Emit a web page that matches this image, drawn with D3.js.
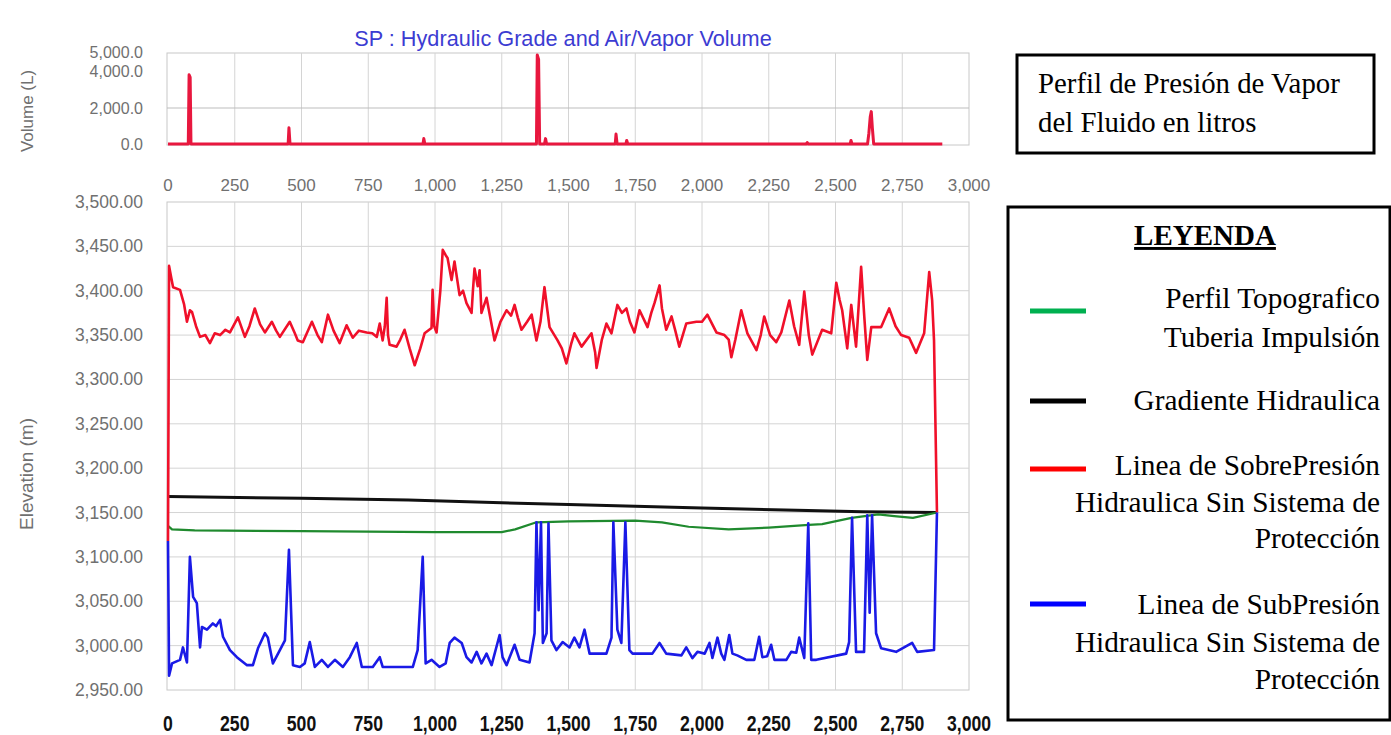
<!DOCTYPE html>
<html>
<head>
<meta charset="utf-8">
<script src="https://cdn.jsdelivr.net/npm/d3@7/dist/d3.min.js"></script>
<style>
  html, body { margin: 0; padding: 0; background: #fff; }
  svg { display: block; }
</style>
</head>
<body>
<svg id="chart" width="1391" height="735"></svg>
<script>
// ---- data: distance along the pipe (m) and value ----
const distanceTicks = [0, 250, 500, 750, 1000, 1250, 1500, 1750, 2000, 2250, 2500, 2750, 3000];
const volumeTicks = [0, 2000, 4000, 5000];
const elevationTicks = [2950, 3000, 3050, 3100, 3150, 3200, 3250, 3300, 3350, 3400, 3450, 3500];

// air/vapor volume (L)
const vaporVolume = [
  [0,0],[76,0],[79,3850],[83,3700],[86,0],[450,0],[453,900],[457,0],[955,0],[958,300],[962,0],
  [1380,0],[1383,4950],[1388,4700],[1392,0],[1410,0],[1414,300],[1418,0],[1675,0],[1678,550],[1682,0],
  [1715,0],[1718,200],[1722,0],[2390,0],[2394,80],[2398,0],[2555,0],[2558,200],[2562,0],
  [2620,0],[2625,600],[2630,1500],[2634,1800],[2638,900],[2643,0],[2900,0]
];

// maximum transient head (m)
const overPressure = [
  [0,3118],[4,3428],[12,3415],[19,3404],[45,3401],[60,3385],[71,3365],[82,3378],[90,3376],[105,3360],
  [120,3348],[140,3350],[157,3341],[175,3352],[195,3350],[215,3356],[232,3353],[262,3370],[288,3348],
  [305,3360],[325,3380],[345,3362],[363,3353],[389,3365],[405,3355],[419,3348],[456,3365],[475,3352],
  [486,3344],[505,3342],[539,3365],[560,3350],[576,3342],[599,3373],[620,3355],[643,3341],[669,3361],
  [692,3347],[715,3355],[744,3353],[765,3352],[782,3348],[793,3363],[804,3344],[812,3360],[819,3392],
  [824,3350],[830,3339],[856,3337],[870,3345],[886,3356],[905,3335],[924,3316],[945,3335],[961,3352],
  [987,3358],[991,3401],[997,3360],[1006,3353],[1020,3400],[1029,3446],[1040,3440],[1047,3437],
  [1062,3412],[1073,3433],[1092,3395],[1105,3400],[1118,3386],[1137,3375],[1142,3400],[1148,3425],
  [1160,3405],[1167,3423],[1174,3375],[1193,3392],[1210,3365],[1223,3344],[1245,3365],[1268,3378],
  [1285,3372],[1298,3384],[1310,3370],[1324,3356],[1345,3365],[1362,3373],[1380,3344],[1395,3365],
  [1410,3404],[1420,3380],[1429,3359],[1459,3344],[1475,3335],[1492,3318],[1510,3340],[1522,3352],
  [1549,3337],[1586,3352],[1600,3330],[1605,3313],[1625,3345],[1642,3363],[1661,3352],[1683,3384],
  [1700,3375],[1717,3380],[1730,3365],[1747,3353],[1766,3378],[1796,3359],[1810,3375],[1822,3386],
  [1841,3406],[1850,3380],[1866,3356],[1886,3371],[1900,3355],[1915,3337],[1941,3363],[1979,3365],
  [2000,3365],[2020,3373],[2054,3353],[2084,3350],[2100,3345],[2110,3325],[2125,3345],[2147,3378],
  [2170,3352],[2204,3333],[2220,3350],[2233,3371],[2255,3350],[2278,3342],[2297,3353],[2327,3389],
  [2345,3360],[2364,3339],[2383,3399],[2400,3350],[2413,3328],[2450,3356],[2484,3352],[2503,3409],
  [2515,3390],[2525,3378],[2544,3335],[2559,3384],[2577,3337],[2596,3427],[2608,3370],[2619,3322],
  [2634,3359],[2671,3359],[2701,3380],[2725,3360],[2746,3350],[2776,3347],[2802,3330],[2832,3352],
  [2851,3421],[2862,3389],[2869,3344],[2880,3150]
];

// minimum transient head (m)
const underPressure = [
  [0,3118],[4,2966],[15,2980],[45,2984],[56,2998],[71,2981],[82,3100],[94,3055],[108,3048],[120,2998],
  [127,3021],[146,3018],[168,3025],[180,3022],[195,3029],[206,3010],[232,2995],[258,2987],[296,2978],
  [318,2978],[337,2997],[363,3014],[374,3009],[393,2980],[419,2995],[438,3006],[453,3108],[468,2978],
  [494,2976],[512,2980],[531,3004],[550,2976],[576,2984],[599,2976],[625,2984],[655,2976],[681,2987],
  [707,3003],[726,2976],[767,2976],[793,2987],[804,2976],[917,2976],[935,2995],[954,3100],[965,2980],
  [987,2984],[1017,2976],[1040,2980],[1055,3003],[1073,3009],[1100,3003],[1118,2987],[1137,2981],
  [1156,2993],[1174,2980],[1193,2991],[1212,2978],[1242,3012],[1253,2987],[1268,2978],[1298,3001],
  [1317,2984],[1354,2981],[1373,3014],[1380,3139],[1388,3040],[1397,3139],[1404,3003],[1418,3014],
  [1425,3138],[1436,3006],[1455,2995],[1478,3004],[1504,2998],[1522,3009],[1541,2998],[1560,3018],
  [1579,2991],[1642,2991],[1661,3009],[1668,3139],[1683,3018],[1698,3003],[1713,3139],[1728,2995],
  [1740,2991],[1814,2991],[1841,3003],[1866,2991],[1923,2989],[1941,2998],[1964,2986],[1983,2993],
  [2010,2991],[2028,3003],[2039,2986],[2058,3009],[2072,2991],[2084,2984],[2102,3012],[2114,2991],
  [2132,2989],[2166,2984],[2196,2984],[2214,3010],[2226,2987],[2244,2988],[2259,3001],[2271,2984],
  [2316,2984],[2334,2993],[2353,2992],[2364,3009],[2383,2986],[2398,3138],[2409,2984],[2428,2984],
  [2540,2991],[2551,3004],[2562,3144],[2577,2993],[2607,2993],[2619,3147],[2628,3037],[2637,3147],
  [2652,3014],[2671,2997],[2727,2993],[2787,3003],[2806,2993],[2869,2995],[2880,3150]
];

// steady-state hydraulic grade (m)
const hydraulicGrade = [
  [0,3168],[500,3166],[900,3164],[1500,3159],[2000,3155],[2600,3151],[2880,3150]
];

// pipe profile (m)
const terrainProfile = [
  [0,3135],[15,3131],[100,3130],[500,3129],[1000,3128],[1250,3128],[1300,3131],[1380,3139],
  [1500,3140],[1750,3141],[1850,3139],[1950,3134],[2100,3131],[2250,3133],[2400,3136],[2450,3137],
  [2560,3144],[2660,3148],[2720,3146],[2790,3144],[2880,3150]
];

const legendItems = [
  { color: "#00b050", lines: ["Perfil Topografico", "Tuberia Impulsión"] },
  { color: "#000000", lines: ["Gradiente Hidraulica"] },
  { color: "#ff0000", lines: ["Linea de SobrePresión", "Hidraulica Sin Sistema de", "Protección"] },
  { color: "#0000ff", lines: ["Linea de SubPresión", "Hidraulica Sin Sistema de", "Protección"] }
];

// ---- drawing ----
const svg = d3.select("#chart");
const axisFont = "'Liberation Sans', Arial, sans-serif";
const serif = "'Liberation Serif', 'Times New Roman', serif";
const gridColor = "#d4d4d4";
const labelGray = "#707070";

const x = d3.scaleLinear().domain([0, 3000]).range([168, 969]);
const yVol = d3.scaleLinear().domain([0, 5000]).range([144, 54]);
const yElev = d3.scaleLinear().domain([2950, 3500]).range([690, 202]);

// title
svg.append("text")
  .attr("x", 563).attr("y", 46)
  .attr("text-anchor", "middle")
  .attr("font-family", axisFont).attr("font-size", 21.7)
  .attr("fill", "#3c3cd2")
  .text("SP : Hydraulic Grade and Air/Vapor Volume");

// ---------- volume panel ----------
const volPanel = svg.append("g");
volPanel.append("rect").attr("x", 167).attr("y", 53).attr("width", 802).attr("height", 92)
  .attr("fill", "#fff").attr("stroke", "#c8c8c8");
volPanel.selectAll("line.vg").data(distanceTicks.slice(1, -1)).join("line")
  .attr("x1", d => x(d)).attr("x2", d => x(d)).attr("y1", 53).attr("y2", 145)
  .attr("stroke", gridColor);
volPanel.append("line").attr("x1", 167).attr("x2", 969).attr("y1", yVol(2000)).attr("y2", yVol(2000))
  .attr("stroke", "#bdbdbd");

// the 4,000 and 5,000 labels sit close together; nudge them apart
const volLabelShift = { 0: 6, 2000: 6, 4000: 5, 5000: 4 };
volPanel.selectAll("text.yt").data(volumeTicks).join("text")
  .attr("x", 143).attr("y", d => yVol(d) + volLabelShift[d])
  .attr("text-anchor", "end").attr("font-family", axisFont).attr("font-size", 16)
  .attr("fill", labelGray).text(d => d3.format(",.1f")(d));

volPanel.selectAll("text.xt").data(distanceTicks).join("text")
  .attr("x", d => x(d)).attr("y", 191)
  .attr("text-anchor", "middle").attr("font-family", axisFont).attr("font-size", 17)
  .attr("fill", labelGray).text(d => d3.format(",")(d));

volPanel.append("text")
  .attr("transform", "translate(33,111) rotate(-90)")
  .attr("text-anchor", "middle").attr("font-family", axisFont).attr("font-size", 17)
  .attr("fill", labelGray).text("Volume (L)");

const volLine = d3.line().x(d => x(d[0])).y(d => yVol(d[1]));
volPanel.append("path").datum(vaporVolume).attr("d", volLine)
  .attr("fill", "none").attr("stroke", "#e8173e").attr("stroke-width", 3)
  .attr("stroke-linejoin", "round");

// ---------- elevation panel ----------
const elevPanel = svg.append("g");
elevPanel.append("rect").attr("x", 167).attr("y", 202).attr("width", 802).attr("height", 488)
  .attr("fill", "#fff").attr("stroke", "#c8c8c8");
elevPanel.selectAll("line.vg").data(distanceTicks.slice(1, -1)).join("line")
  .attr("x1", d => x(d)).attr("x2", d => x(d)).attr("y1", 202).attr("y2", 690)
  .attr("stroke", gridColor);
elevPanel.selectAll("line.hg").data(elevationTicks.slice(1, -1)).join("line")
  .attr("x1", 167).attr("x2", 969).attr("y1", d => yElev(d)).attr("y2", d => yElev(d))
  .attr("stroke", gridColor);

elevPanel.selectAll("text.yt").data(elevationTicks).join("text")
  .attr("x", 143).attr("y", d => yElev(d) + 6)
  .attr("text-anchor", "end").attr("font-family", axisFont).attr("font-size", 17.5)
  .attr("fill", labelGray).text(d => d3.format(",.2f")(d));

elevPanel.selectAll("text.xt").data(distanceTicks).join("text")
  .attr("transform", d => `translate(${x(d)},731) scale(0.8,1)`)
  .attr("text-anchor", "middle").attr("font-family", axisFont).attr("font-size", 22)
  .attr("font-weight", "bold").attr("fill", "#111").text(d => d3.format(",")(d));

elevPanel.append("text")
  .attr("transform", "translate(33,474) rotate(-90)")
  .attr("text-anchor", "middle").attr("font-family", axisFont).attr("font-size", 19)
  .attr("fill", labelGray).text("Elevation (m)");

const elevLine = d3.line().x(d => x(d[0])).y(d => yElev(d[1]));
const series = [
  { data: hydraulicGrade, color: "#111111", width: 3 },
  { data: terrainProfile, color: "#1f8a2e", width: 2.2 },
  { data: overPressure, color: "#f0102a", width: 2.6 },
  { data: underPressure, color: "#1a1ae6", width: 2.6 }
];
elevPanel.selectAll("path.series").data(series).join("path")
  .attr("d", d => elevLine(d.data))
  .attr("fill", "none").attr("stroke", d => d.color).attr("stroke-width", d => d.width)
  .attr("stroke-linejoin", "round");

// ---------- annotation box ----------
const note = svg.append("g");
note.append("rect").attr("x", 1017).attr("y", 55).attr("width", 357).attr("height", 98)
  .attr("fill", "#fff").attr("stroke", "#000").attr("stroke-width", 3);
note.selectAll("text").data(["Perfil de Presión de Vapor", "del Fluido en litros"]).join("text")
  .attr("x", 1038).attr("y", (d, i) => 93 + i * 39)
  .attr("font-family", serif).attr("font-size", 28.8).attr("fill", "#000").text(d => d);

// ---------- legend ----------
const legend = svg.append("g");
legend.append("rect").attr("x", 1008).attr("y", 207).attr("width", 382).attr("height", 513)
  .attr("fill", "#fff").attr("stroke", "#000").attr("stroke-width", 3);
legend.append("text")
  .attr("x", 1205).attr("y", 245).attr("text-anchor", "middle")
  .attr("font-family", serif).attr("font-size", 29).attr("font-weight", "bold")
  .attr("text-decoration", "underline").text("LEYENDA");

const itemTop = [308, 410, 475, 614];
const lineGap = [39, 0, 36.5, 37.5];
const swatchY = [311, 401, 469, 604];
const item = legend.selectAll("g.item").data(legendItems).join("g");
item.append("line")
  .attr("x1", 1030).attr("x2", 1086)
  .attr("y1", (d, i) => swatchY[i]).attr("y2", (d, i) => swatchY[i])
  .attr("stroke", d => d.color).attr("stroke-width", 5);
item.each(function (d, i) {
  d3.select(this).selectAll("text").data(d.lines).join("text")
    .attr("x", 1380).attr("y", (t, j) => itemTop[i] + j * lineGap[i])
    .attr("text-anchor", "end").attr("font-family", serif).attr("font-size", 29.3)
    .attr("fill", "#000").text(t => t);
});
</script>
</body>
</html>
